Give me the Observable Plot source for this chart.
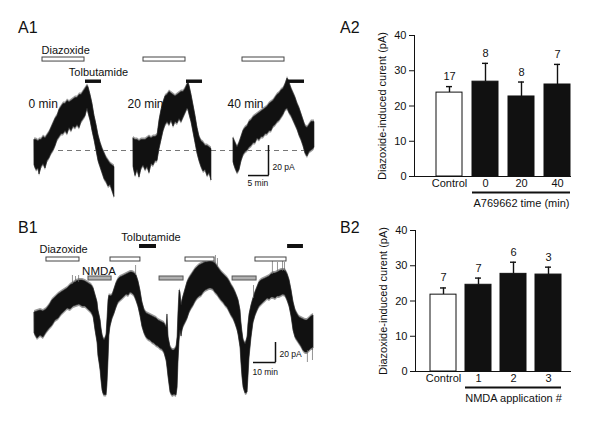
<!DOCTYPE html>
<html><head><meta charset="utf-8">
<script src="https://cdn.jsdelivr.net/npm/d3@7"></script>
<script src="https://cdn.jsdelivr.net/npm/@observablehq/plot@0.6"></script>
<style>
html,body{margin:0;padding:0;background:#fff;}
#fig{position:relative;width:601px;height:422px;overflow:hidden;background:#fff;font-family:"Liberation Sans",Arial,Helvetica,sans-serif;}
#fig svg{position:absolute;}
.lab{position:absolute;font-size:16px;line-height:1;color:#111;}
</style></head>
<body><div id="fig">
<div class="lab" style="left:18px;top:20px">A1</div>
<div class="lab" style="left:340px;top:20px">A2</div>
<div class="lab" style="left:18px;top:220px">B1</div>
<div class="lab" style="left:340px;top:220px">B2</div>
</div>
<script>
const FONT = '"Liberation Sans", Arial, Helvetica, sans-serif';

// ---------------- A1: current traces [time (min), lower envelope (pA), upper envelope (pA)] ----------------
const a1SegmentLabels = ["0 min", "20 min", "40 min"];
const a1Trace0 = [[8.5,-10,7],[9,-13,7],[9.5,-12,6],[9.75,-16,7],[10.25,-11,7],[10.75,-9,9],[11.25,-12,8],[11.75,-7,10],[12.25,-5,12],[12.75,-2,15],[13.25,0,18],[13.75,3,21],[14.25,7,23],[14.75,9,27],[15.25,11,29],[15.75,11,31],[16.25,13,31],[16.75,11,33],[17.25,15,32],[17.75,13,33],[18.25,16,34],[18.75,15,35],[19.25,17,35],[19.75,15,37],[20.25,19,37],[20.75,21,39],[21.25,23,41],[21.75,28,43],[22,25,42],[22.5,20,37],[23,13,31],[23.5,7,23],[24,0,17],[24.5,-7,10],[25,-11,5],[25.5,-15,1],[26,-19,-2],[26.5,-21,-5],[27,-24,-7],[27.5,-23,-9],[28,-27,-10],[28.5,-31,-11]];
const a1Trace1 = [[33.25,-11,8],[33.75,-17,7],[34.25,-13,7],[34.75,-18,6],[35.25,-12,7],[35.75,-10,7],[36.25,-13,7],[36.75,-11,8],[37.25,-15,9],[37.75,-9,8],[38.25,-10,9],[38.75,-7,9],[39.25,-7,10],[39.5,-3,15],[39.75,1,20],[40.25,7,27],[40.75,13,32],[41.25,17,36],[41.75,19,37],[42.25,17,39],[42.75,20,38],[43.25,16,37],[43.75,19,36],[44.25,18,37],[44.75,21,38],[45.25,19,39],[45.75,22,39],[46.25,25,41],[46.75,28,44],[47,27,45],[47.25,24,43],[47.75,19,37],[48.25,12,30],[48.75,5,23],[49.25,-2,15],[49.75,-7,9],[50.25,-11,6],[50.75,-14,5],[51.25,-13,3],[51.75,-17,3],[52.25,-15,2],[52.75,-20,1]];
const a1Trace2 = [[58.25,-8,8],[58.75,-12,5],[59.25,-15,2],[59.75,-13,5],[60.25,-7,9],[60.75,-3,13],[61.25,-1,15],[61.75,0,16],[62.25,2,19],[62.75,3,20],[63.25,5,22],[63.75,5,23],[64.25,8,24],[64.75,7,25],[65.25,9,26],[65.75,9,27],[66.25,11,28],[66.75,11,29],[67.25,13,31],[67.75,13,32],[68.25,16,33],[68.75,17,35],[69.25,19,37],[69.75,20,38],[70.25,22,40],[70.75,24,41],[71.25,27,44],[71.75,28,48],[72.25,25,45],[72.75,23,41],[73.25,20,38],[73.75,17,35],[74.25,14,31],[74.75,10,28],[75.25,7,24],[75.75,3,20],[76.25,-2,16],[76.75,-4,15],[77.25,-1,17],[77.75,0,19],[78.25,1,19],[78.5,2,19]];
const a1Diazoxide = [[10.5,21],[35.75,46.25],[60.5,71]];          // application windows (min)
const a1Tolbutamide = [[21.25,25.25],[46.5,50.5],[71.75,76]];
const a1Baseline = [14.5, 76];                                    // extent of dashed 0-pA line (min)
const a1ScaleBar = {minutes: 5, pA: 20};

// ---------------- B1 ----------------
const b1Trace = [[15.5,-11,10],[16.8,-16,11],[18.2,-13,12],[19.5,-15,11],[20.9,-10,13],[22.3,-6,17],[23.6,-3,22],[25,2,25],[26.4,4,28],[27.7,8,30],[29.1,11,32],[30.5,14,34],[31.8,13,37],[33.2,16,39],[34.5,17,41],[35.9,18,42],[37.3,16,42],[38.6,16,41],[40,13,39],[41.4,10,37],[42.3,6,34],[43.2,-8,27],[44.1,-20,20],[44.5,-33,12],[45,-40,7],[45.5,-48,2],[45.9,-58,-6],[46.4,-68,-13],[46.8,-71,-16],[47.3,-73,-18],[47.7,-72,-16],[48.2,-73,-13],[48.6,-63,2],[49.1,-38,22],[49.5,-13,27],[50,-4,26],[50.9,4,27],[51.8,9,33],[52.7,15,39],[53.6,20,43],[54.5,22,45],[55.5,24,46],[56.4,26,47],[57.3,28,48],[58.2,27,49],[59.1,30,50],[60,29,50],[60.9,27,49],[61.8,22,47],[62.7,16,41],[63.6,7,32],[64.5,-4,20],[65.5,-11,12],[66.4,-15,9],[67.3,-17,8],[68.2,-18,7],[69.1,-20,6],[70,-21,5],[70.9,-23,4],[71.8,-24,2],[72.7,-26,1],[73.6,-27,0],[74.5,-30,-1],[75.5,-38,-5],[75.9,-45,8],[76.4,-55,-15],[77.3,-70,-25],[78.2,-73,-28],[79.1,-72,-28],[80,-73,-25],[80.5,-65,-15],[80.9,-40,10],[81.4,-18,32],[81.8,-8,30],[82.3,-14,17],[82.7,-8,22],[83.2,-4,26],[84.1,0,33],[85,4,40],[85.9,10,44],[86.8,14,47],[87.7,17,50],[88.6,21,53],[89.5,24,55],[90.5,26,57],[91.4,27,58],[92.3,30,59],[93.2,32,60],[94.1,33,60],[95,34,61],[95.9,34,61],[96.8,33,60],[97.7,30,59],[98.6,28,56],[99.5,25,53],[100.5,22,50],[101.4,20,48],[102.3,17,46],[103.2,15,44],[104.1,11,41],[105,7,37],[105.9,4,34],[106.8,-1,30],[107.7,-7,25],[108.2,-12,22],[109.1,-25,12],[109.5,-40,0],[110,-55,-10],[110.5,-65,-18],[111.4,-71,-22],[112.3,-70,-15],[112.7,-55,-2],[113.2,-35,8],[114.1,-15,17],[115,0,24],[115.9,7,30],[116.8,12,35],[117.7,16,40],[118.6,18,42],[119.5,20,43],[120.5,22,44],[121.4,24,45],[122.3,23,46],[123.2,25,48],[124.1,25,49],[125,24,49],[125.9,26,50],[126.8,26,51],[127.7,27,52],[128.6,28,52],[129.5,27,52],[130.5,22,48],[131.4,16,42],[132.3,6,32],[133.2,-8,20],[134.1,-15,12],[135,-18,8],[135.9,-21,5],[136.8,-24,4],[137.7,-28,3],[138.6,-30,2],[139.5,-30,2],[140.5,-28,4],[141.4,-26,6],[142.3,-26,7]];
const b1Spikes = [[32.7,38,47],[34.1,40,46],[35.5,40,47],[61.4,47,57],[97.7,58,67],[98.6,55,64],[115,24,37],[123.6,48,61],[125.9,50,60],[128.2,51,62],[129.1,51,60],[139.5,-40,-28],[141.8,-38,-25]];
const b1Diazoxide = [[20.9,35.9],[50,63.6],[84.1,97.3],[115.9,130]];
const b1Nmda = [[40,50.5],[72.3,83.2],[105.5,116.4]];
const b1Tolbutamide = [[63.2,70.9],[130.5,137.7]];
const b1ScaleBar = {minutes: 10, pA: 20};

// ---------------- A2 / B2 bar charts ----------------
const yTicks = [0, 10, 20, 30, 40];
const yTitle = "Diazoxide-induced curent (pA)";
const a2Categories = ["Control", "0", "20", "40"];
const a2Mean = [23.8, 26.9, 22.7, 26.1];
const a2Sem = [1.7, 5.2, 4.1, 5.7];
const a2N = [17, 8, 8, 7];
const a2Group = "A769662 time (min)";
const b2Categories = ["Control", "1", "2", "3"];
const b2Mean = [21.8, 24.6, 27.7, 27.5];
const b2Sem = [1.9, 1.9, 3.3, 2.1];
const b2N = [7, 7, 6, 3];
const b2Group = "NMDA application #";

const fig = document.getElementById("fig");
function place(svg, left, top) { svg.style.left = left + "px"; svg.style.top = top + "px"; fig.appendChild(svg); }

function traceRows(segs) { return segs.flatMap((s, k) => s.map(([t, lo, hi]) => ({seg: k, t, lo, hi}))); }
const win = {x1: d => d[0], x2: d => d[1]};
function traceMarks(rows, fringe) {
  return [
    Plot.areaY(rows, {x: "t", y1: d => d.lo - fringe, y2: d => d.hi + fringe, z: "seg", fill: "#9a9a9a"}),
    Plot.areaY(rows, {x: "t", y1: "lo", y2: "hi", z: "seg", fill: "#111", stroke: "#222", strokeWidth: 0.6})
  ];
}

// ---- A1 ----
const a1Segs = [a1Trace0, a1Trace1, a1Trace2];
const a1 = Plot.plot({
  width: 340, height: 210, margin: 0,
  x: {domain: [0, 85], axis: null},
  y: {domain: [-40, 100], axis: null},
  style: {fontFamily: FONT, background: "transparent", color: "#111", overflow: "visible"},
  marks: [
    Plot.ruleY([0], {x1: a1Baseline[0], x2: a1Baseline[1], stroke: "#777", strokeDasharray: "5,4", strokeWidth: 1}),
    ...traceMarks(traceRows(a1Segs), 1.3),
    Plot.rect(a1Diazoxide, {...win, y1: 59.3, y2: 62, fill: "white", stroke: "#444", strokeWidth: 1}),
    Plot.rect(a1Tolbutamide, {...win, y1: 44.7, y2: 47, fill: "#111"}),
    Plot.text(["Diazoxide"], {x: a1Diazoxide[0][0] - 0.25, y: 66.5, textAnchor: "start", fontSize: 11}),
    Plot.text(["Tolbutamide"], {x: (a1Tolbutamide[0][0] + a1Tolbutamide[0][1]) / 2, dx: 5, y: 52, fontSize: 11}),
    Plot.text(a1SegmentLabels, {x: (d, i) => a1Segs[i][0][0] - 1.5, y: 31, textAnchor: "start", fontSize: 12}),
    Plot.ruleX([67], {y1: -16.7, y2: -16.7 + a1ScaleBar.pA, stroke: "#111", strokeWidth: 1.5}),
    Plot.ruleY([-16.7], {x1: 67 - a1ScaleBar.minutes, x2: 67.2, stroke: "#111", strokeWidth: 1.5}),
    Plot.text([`${a1ScaleBar.pA} pA`], {x: 68, y: -11, textAnchor: "start", fontSize: 8.5}),
    Plot.text([`${a1ScaleBar.minutes} min`], {x: 61.75, y: -22, textAnchor: "start", fontSize: 8.5})
  ]
});
place(a1, 0, 0);

// ---- B1 ----
const b1 = Plot.plot({
  width: 340, height: 212, margin: 0,
  x: {domain: [0, 340 / 2.2], axis: null},
  y: {domain: [-100, 112], axis: null},
  style: {fontFamily: FONT, background: "transparent", color: "#111", overflow: "visible"},
  marks: [
    ...traceMarks(traceRows([b1Trace]), 2),
    Plot.ruleX(b1Spikes, {x: d => d[0], y1: d => d[1], y2: d => d[2], stroke: "#666", strokeWidth: 0.7}),
    Plot.rect(b1Diazoxide, {...win, y1: 61, y2: 65, fill: "white", stroke: "#444", strokeWidth: 1}),
    Plot.rect(b1Nmda, {...win, y1: 42, y2: 46, fill: "#b0b0b0", stroke: "#555", strokeWidth: 1}),
    Plot.rect(b1Tolbutamide, {...win, y1: 74, y2: 78, fill: "#111"}),
    Plot.text(["Diazoxide"], {x: b1Diazoxide[0][0] - 3.2, y: 73, textAnchor: "start", fontSize: 11}),
    Plot.text(["Tolbutamide"], {x: (b1Tolbutamide[0][0] + b1Tolbutamide[0][1]) / 2, dx: 3, y: 85, fontSize: 11}),
    Plot.text(["NMDA"], {x: (b1Nmda[0][0] + b1Nmda[0][1]) / 2, dx: -1, y: 51.5, fontSize: 11.5}),
    Plot.ruleX([125], {y1: -40, y2: -40 + b1ScaleBar.pA, stroke: "#111", strokeWidth: 1.5}),
    Plot.ruleY([-40], {x1: 125 - b1ScaleBar.minutes, x2: 125.3, stroke: "#111", strokeWidth: 1.5}),
    Plot.text([`${b1ScaleBar.pA} pA`], {x: 126.8, y: -32, textAnchor: "start", fontSize: 8.5}),
    Plot.text([`${b1ScaleBar.minutes} min`], {x: 114.5, y: -49.5, textAnchor: "start", fontSize: 8.5})
  ]
});
place(b1, 0, 210);

// ---- bar charts ----
function barChart({cats, mean, sem, n, group, height, marginTop, marginBottom, marginLeft, padding, paddingOuter, align}) {
  const rows = cats.map((c, i) => ({cat: c, mean: mean[i], top: mean[i] + sem[i], n: String(n[i])}));
  return Plot.plot({
    width: 261, height, marginTop, marginBottom, marginLeft, marginRight: 31,
    style: {fontFamily: FONT, fontSize: "11px", color: "#111", background: "transparent", overflow: "visible"},
    x: {type: "band", domain: cats, padding, paddingOuter, align, axis: null},
    y: {domain: [0, 40], axis: null},
    marks: [
      Plot.ruleX(rows, {x: "cat", y1: "mean", y2: "top", stroke: "#111", strokeWidth: 1.4}),
      Plot.tickY(rows, {x: "cat", y: "top", insetLeft: 10, insetRight: 10, stroke: "#111", strokeWidth: 1.4}),
      Plot.rectY(rows, {x: "cat", y: "mean", fill: d => d.cat === "Control" ? "white" : "#111", stroke: "#111", strokeWidth: 1}),
      Plot.text(rows, {x: "cat", y: "top", text: "n", dy: -10, fontSize: 11}),
      Plot.axisY({ticks: yTicks, tickSize: 5, tickPadding: 3, fontSize: 11, label: null}),
      Plot.axisX({tickSize: 0, tickPadding: 3, fontSize: 11, label: null}),
      Plot.frame({anchor: "left", stroke: "#111"}),
      Plot.frame({anchor: "bottom", stroke: "#111"}),
      Plot.text([yTitle], {frameAnchor: "left", textAnchor: "middle", dx: -32, rotate: -90, fontSize: 11}),
      Plot.ruleY([0], {x1: () => cats[1], x2: () => cats[3], dy: 16, stroke: "#111", strokeWidth: 2}),
      Plot.text([group], {x: () => cats[2], y: 0, dy: 27, fontSize: 11})
    ]
  });
}
place(barChart({cats: a2Categories, mean: a2Mean, sem: a2Sem, n: a2N, group: a2Group,
  height: 215, marginTop: 35, marginBottom: 39, marginLeft: 74, padding: 0.264, paddingOuter: 0.257, align: 1}), 340, 0);
place(barChart({cats: b2Categories, mean: b2Mean, sem: b2Sem, n: b2N, group: b2Group,
  height: 227, marginTop: 35, marginBottom: 51, marginLeft: 75, padding: 0.246, paddingOuter: 0.288, align: 0.63}), 340, 195);
</script>
</body></html>
